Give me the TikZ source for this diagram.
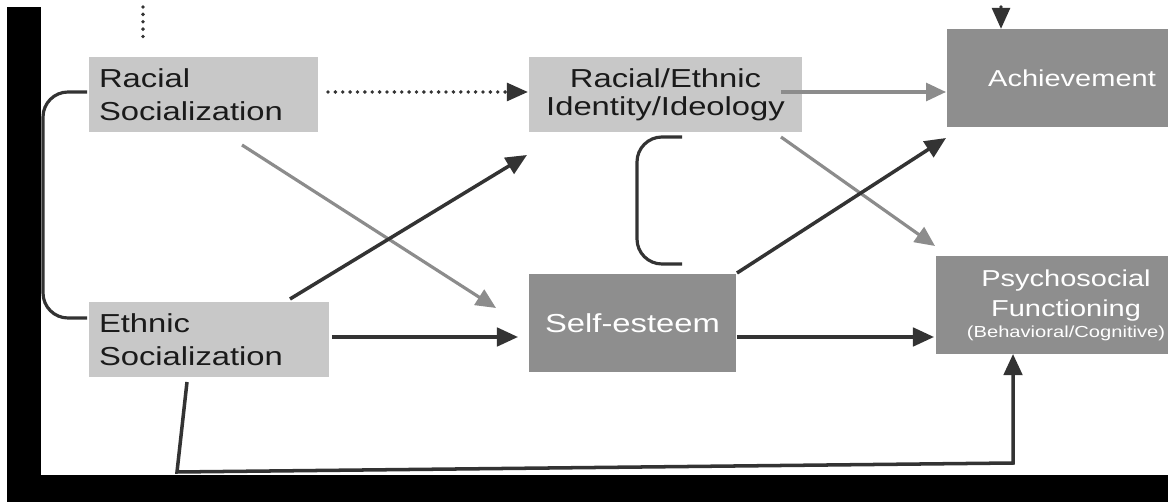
\documentclass[tikz,border=0pt]{standalone}
\usepackage{fontspec}
\newfontfamily\diagfont[FakeStretch=1.26]{Liberation Sans}
\usetikzlibrary{arrows.meta,calc}
\definecolor{boxLight}{HTML}{C8C8C8}
\definecolor{boxDark}{HTML}{8E8E8E}
\definecolor{lineDark}{HTML}{333333}
\definecolor{lineGray}{HTML}{8C8C8C}
\definecolor{textDark}{HTML}{1A1A1A}

\begin{document}
\begin{tikzpicture}[
    x=0.02cm,y=-0.02cm,
    every node/.style={inner sep=0pt,outer sep=0pt},
    lightbox/.style={fill=boxLight,text=textDark,minimum height=1.5cm,
                     font=\diagfont\fontsize{14.8pt}{18.8pt}\selectfont},
    darkbox/.style={fill=boxDark,text=white,minimum height=1.96cm,
                    font=\diagfont\fontsize{13.1pt}{17.5pt}\selectfont},
    darkarrow/.style={draw=lineDark,line width=2pt,
                      -{Triangle[length=12pt,width=10.5pt]}},
    grayarrow/.style={draw=lineGray,line width=1.8pt,
                      -{Triangle[length=11.4pt,width=10.2pt]}},
    dotline/.style={draw=lineDark,line width=2.2pt,line cap=round,
                    dash pattern=on 0pt off 4.2pt},
    dotarrow/.style={dotline,-{Triangle[length=12pt,width=10pt]}},
    bracket/.style={draw=lineDark,line width=1.8pt,rounded corners=0.5cm},
  ]
  \useasboundingbox (0,0) rectangle (1168,502);
  \fill[white] (0,0) rectangle (1168,502);
  \fill[black] (7,7) rectangle (41,502);
  \fill[black] (7,475) rectangle (1168,502);

  \node[lightbox,minimum width=4.58cm,text width=4.18cm,align=left] (rs) at (203.5,94.5) {Racial\\Socialization};
  \node[lightbox,minimum width=4.8cm,text width=4.4cm,align=left] (es) at (209,339.5) {Ethnic\\Socialization};
  \node[lightbox,minimum width=5.46cm,align=center,
        font=\diagfont\fontsize{14.8pt}{16.1pt}\selectfont] (rei) at (665.5,94.5) {Racial/Ethnic\\Identity/Ideology};
  \node[darkbox,minimum width=4.14cm,
        font=\diagfont\fontsize{14.8pt}{17.5pt}\selectfont] (se) at (632.5,323) {Self-esteem};
  \node[darkbox,minimum width=5cm] (ach) at (1072,78) {Achievement};
  \node[darkbox,minimum width=5.2cm,align=center] (psy) at (1066,305)
    {Psychosocial\\Functioning\\[-6pt]{\fontsize{9.1pt}{11pt}\selectfont(Behavioral/Cognitive)}};

  \coordinate (rsup) at (143,7);
  \coordinate (achup) at (1001,7);
  \coordinate (bendL) at (177,472);
  \coordinate (bendR) at (1013,463);

  \draw[dotline] (rsup) -- ++(0,31);
  \draw[dotarrow] (achup) -- (achup |- ach.north);
  \draw[dotarrow] ($(rs.east)+(10,-2.5)$) -- ($(rei.west)+(-1,-2.5)$);

  \draw[grayarrow] ($(rs.south)+(38.5,13)$) -- ($(se.west)+(-33,-15)$);
  \draw[darkarrow] ($(es.north)+(81,-3)$) -- ($(rei.south west)+(-2,23)$);
  \draw[darkarrow] ($(es.east)+(3,-2.5)$) -- ($(se.west)+(-11,14)$);
  \draw[grayarrow] ($(rei.east)+(-21,-2.5)$) -- ($(ach.west)+(-1,14)$);
  \draw[grayarrow] ($(rei.south east)+(-21,5)$) -- ($(psy.north west)+(-1,-10)$);
  \draw[darkarrow] ($(se.north east)+(1,-1)$) -- ($(ach.south west)+(-1,11)$);
  \draw[darkarrow] ($(se.east)+(1,14)$) -- ($(psy.west)+(-2,32)$);
  \draw[darkarrow] ($(es.south)+(-22,5)$) -- (bendL) -- (bendR) -- ($(psy.south)+(-53,0)$);

  \draw[bracket] ($(rs.west)+(-2,-2.5)$) -- ++(-44,0) |- ($(es.west)+(-2,-21.5)$);
  \draw[bracket] ($(rei.south)+(16.5,5)$) -- ++(-45,0) |- ($(se.north)+(49.5,-10)$);
\end{tikzpicture}
\end{document}
